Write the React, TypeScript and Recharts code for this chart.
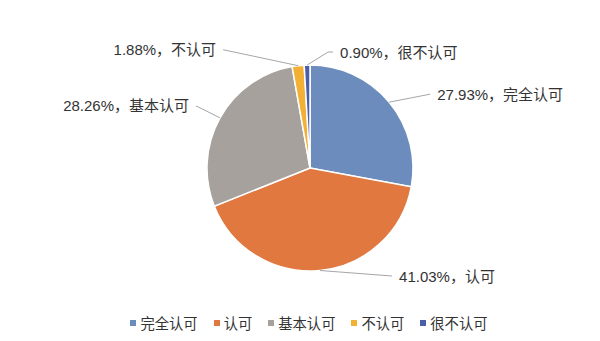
import { Legend, Pie, PieChart, Cell } from "recharts";

const CATEGORIES = ["完全认可", "认可", "基本认可", "不认可", "很不认可"];
const SHARES = [27.93, 41.03, 28.26, 1.88, 0.9];

const COLORS = ["#6b8cbd", "#e07840", "#a6a19d", "#f2b035", "#4b5fa8"];

// leader line: elbow offset, end offset (relative to arc point), text side
const LEADERS: { elbow: [number, number]; end: [number, number]; side: "start" | "end" }[] = [
  { elbow: [41, -8], end: [41, -8], side: "start" },
  { elbow: [72, 5.5], end: [72, 5.5], side: "start" },
  { elbow: [-24, -12], end: [-24, -12], side: "end" },
  { elbow: [-75, -16], end: [-75, -16], side: "end" },
  { elbow: [21, -13], end: [26, -13], side: "start" },
];

const FONT = '"Liberation Sans", Arial, "Noto Sans CJK SC", sans-serif';
const RAD = Math.PI / 180;

const data = CATEGORIES.map((name, i) => ({ name, value: SHARES[i] }));

function SliceLabel(props: any) {
  const { cx, cy, midAngle, outerRadius, index } = props;
  const lead = LEADERS[index];
  const x0 = cx + outerRadius * Math.cos(-midAngle * RAD);
  const y0 = cy + outerRadius * Math.sin(-midAngle * RAD);
  const x1 = x0 + lead.elbow[0];
  const y1 = y0 + lead.elbow[1];
  const x2 = x0 + lead.end[0];
  const y2 = y0 + lead.end[1];
  const tx = lead.side === "start" ? x2 + 7 : x2 - 7;
  return (
    <g>
      <polyline
        points={`${x0},${y0} ${x1},${y1} ${x2},${y2}`}
        fill="none"
        stroke="#a6a6a6"
        strokeWidth={1}
      />
      <text
        x={tx}
        y={y2}
        textAnchor={lead.side}
        dominantBaseline="central"
        fill="#333"
        fontSize={15}
        fontFamily={FONT}
      >
        {`${SHARES[index].toFixed(2)}%，${CATEGORIES[index]}`}
      </text>
    </g>
  );
}

function LegendRow() {
  return (
    <div
      style={{
        display: "flex",
        justifyContent: "center",
        alignItems: "center",
        fontFamily: FONT,
        fontSize: 14.3,
        color: "#333",
        transform: "translateX(9px)",
      }}
    >
      {CATEGORIES.map((c, i) => (
        <div
          key={c}
          style={{
            display: "flex",
            alignItems: "center",
            marginRight: i < CATEGORIES.length - 1 ? 16 : 0,
          }}
        >
          <span
            style={{
              display: "inline-block",
              width: 6,
              height: 6,
              background: COLORS[i],
              marginRight: 4,
            }}
          />
          <span>{c}</span>
        </div>
      ))}
    </div>
  );
}

export default function App() {
  return (
    <div style={{ position: "absolute", left: 0, top: 0, width: 600, height: 341, background: "#fff" }}>
      <PieChart width={600} height={341} margin={{ top: 0, right: 0, bottom: 0, left: 0 }}>
        <Pie
          data={data}
          dataKey="value"
          nameKey="name"
          cx={310}
          cy={168}
          outerRadius={103}
          startAngle={90}
          endAngle={-270}
          stroke="#fff"
          strokeWidth={1.5}
          label={SliceLabel}
          labelLine={false}
          isAnimationActive={false}
        >
          {data.map((_, i) => (
            <Cell key={i} fill={COLORS[i]} />
          ))}
        </Pie>
        <Legend
          verticalAlign="bottom"
          wrapperStyle={{ bottom: 8, left: 0, width: 600 }}
          content={() => <LegendRow />}
        />
      </PieChart>
    </div>
  );
}
